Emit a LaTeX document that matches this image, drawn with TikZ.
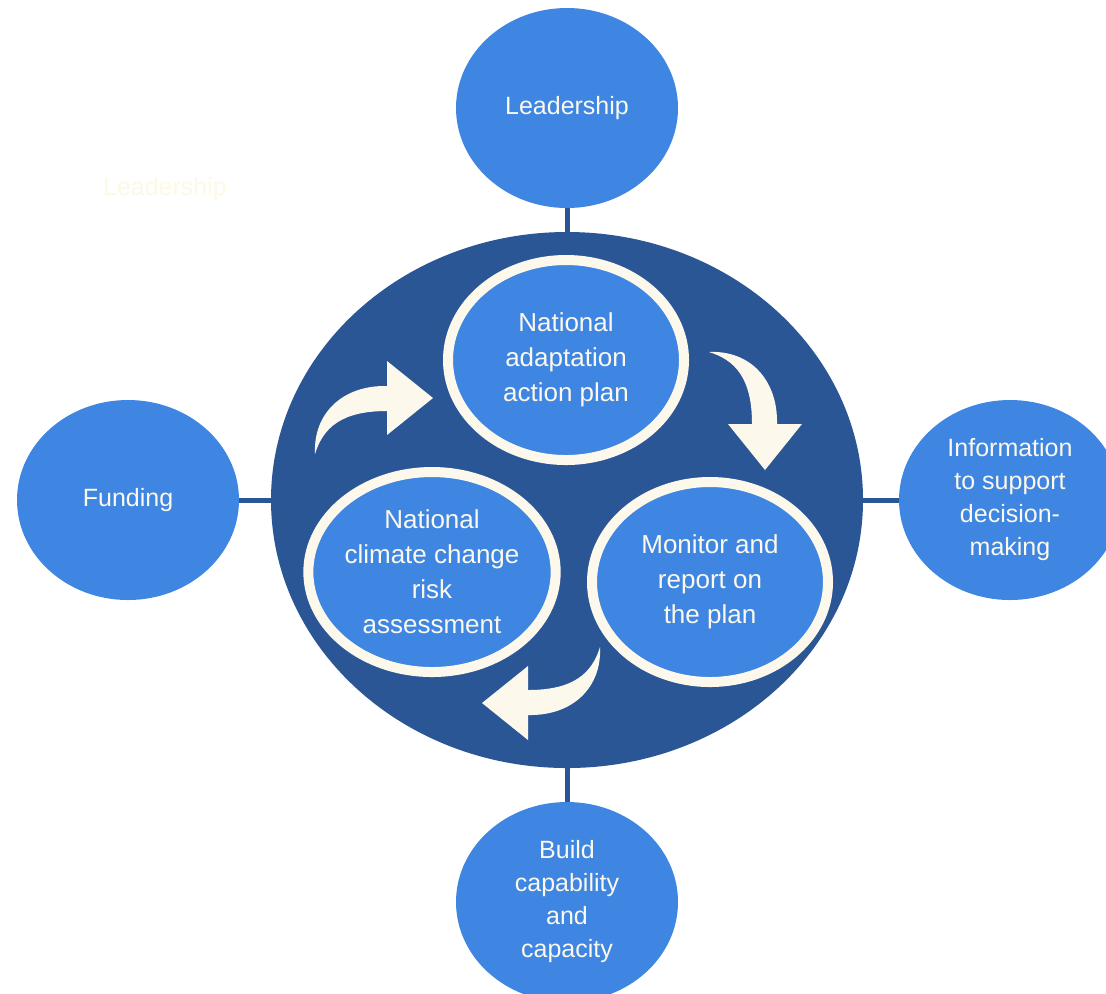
\documentclass[tikz,border=0pt]{standalone}
\usepackage{fontspec}
\setmainfont{Liberation Sans}
\usetikzlibrary{shapes.geometric}

\definecolor{hubblue}{RGB}{42,86,150}
\definecolor{petalblue}{RGB}{62,134,226}
\definecolor{cream}{RGB}{252,248,236}
\definecolor{ghost}{RGB}{252,249,230}

\begin{document}
\begin{tikzpicture}[
  x=0.5pt, y=-0.5pt,
  hub/.style={ellipse, fill=hubblue, minimum width=296pt, minimum height=268pt, inner sep=0pt},
  outerB/.style={ellipse, fill=petalblue, minimum width=111pt, minimum height=100pt, inner sep=0pt, align=center, text=cream, font=\fontsize{12.5}{16.5}\selectfont},
  innerB/.style={ellipse, fill=petalblue, draw=cream, line width=5pt, minimum width=118pt, minimum height=100pt, inner sep=0pt, align=center, text=cream, font=\fontsize{13}{17.5}\selectfont},
  link/.style={draw=hubblue, line width=2.5pt},
  cyclearrow/.pic={
    \fill[cream] (0,0) -- (-46,-37) -- (-46,-12)
      .. controls (-90,-13) and (-120,15) .. (-118,56)
      .. controls (-110,30) and (-92,13) .. (-46,13)
      -- (-46,37) -- cycle;
  }
]
\fill[white] (0,0) rectangle (1106,993);
\useasboundingbox (0,0) rectangle (1106,993);

% the cycle in the middle
\node[hub] (hub) at (567,500) {};
\node[innerB] (plan) at (566,360) {National\\adaptation\\action plan};
\node[innerB] (risk) at (432,572) {National\\climate change\\risk\\assessment};
\node[innerB] (monitor) at (710,582) {Monitor and\\report on\\the plan};

\pic at (433,398) {cyclearrow};
\pic[rotate=-90] at (765,470) {cyclearrow};
\pic[rotate=180] at (482,703) {cyclearrow};

% enablers around it
\node[outerB] (lead) at (567,108) {Leadership};
\node[outerB] (fund) at (128,500) {Funding};
\node[outerB] (info) at (1010,500) {Information\\to support\\decision-\\making};
\node[outerB] (build) at (567,902) {Build\\capability\\and\\capacity};

\node[text=ghost, font=\fontsize{12.5}{15}\selectfont] (ghostlbl) at (165,189) {Leadership};

\draw[link] (lead) -- (hub);
\draw[link] (fund) -- (hub);
\draw[link] (hub) -- (info);
\draw[link] (hub) -- (build);
\end{tikzpicture}
\end{document}
